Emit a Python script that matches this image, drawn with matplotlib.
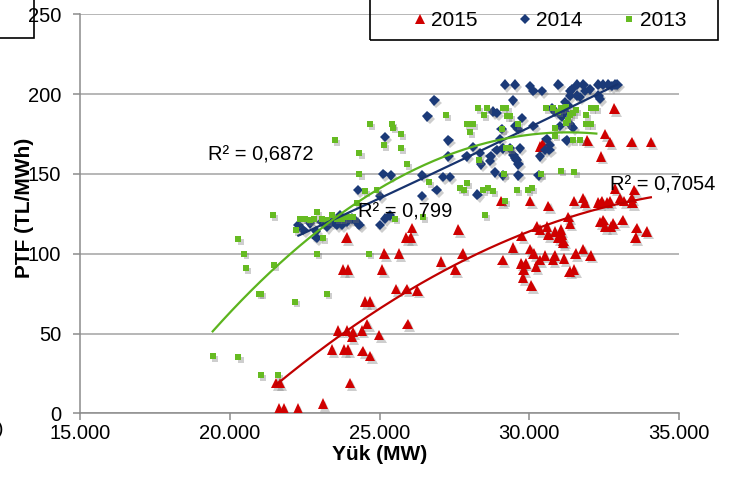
import matplotlib
matplotlib.use("Agg")
import matplotlib.pyplot as plt
import matplotlib.patheffects as pe
from matplotlib.patches import Rectangle
from matplotlib.lines import Line2D
import numpy as np

plt.rcParams['font.family'] = ['Liberation Sans', 'DejaVu Sans']

# ---------------- data ----------------
x_2015 = [21550, 21680, 21650, 21810, 22280, 23110, 24010, 23410, 23810, 23950,
          24440, 24690, 23610, 23910, 24110, 24080, 24410, 24590, 24990, 25940,
          24510, 24690, 23780, 23950, 25090, 25550, 25910, 26260, 23900, 25160,
          25650, 25890, 26040, 26080, 27630, 27780, 27050, 27530, 29110, 29460,
          29740, 29880, 29810, 29790, 30070, 29750, 30020, 30150, 30220, 30350,
          30520, 30790, 30850, 31160, 31350, 31500, 31550, 31800, 32050, 31130,
          30250, 30360, 30590, 30640, 30860, 30970, 31060, 31140, 31080, 31310,
          31360, 32360, 32470, 32530, 32730, 32810, 33120, 33590, 33920, 33550,
          30030, 30640, 31500, 31790, 31860, 32310, 32420, 32610, 32700, 33030,
          33160, 33420, 33440, 33510, 32860, 29070, 32840, 32530, 32700, 31940,
          33420, 34060, 32400, 30360, 30450]
y_2015 = [19, 19, 3, 3, 3, 6, 19, 40, 40, 40,
          39, 36, 52, 52, 51, 48, 52, 56, 49, 56,
          70, 70, 90, 90, 90, 78, 78, 77, 110, 100,
          100, 110, 110, 116, 115, 100, 95, 90, 96, 104,
          94, 94, 90, 85, 80, 111, 103, 100, 92, 96,
          99, 96, 99, 97, 89, 90, 100, 103, 99, 107,
          117, 115, 117, 112, 114, 110, 115, 108, 112, 123,
          119, 120, 121, 117, 117, 119, 121, 116, 114, 110,
          133, 130, 133, 135, 132, 132, 133, 132, 133, 135,
          133, 135, 132, 140, 141, 133, 191, 175, 170, 171,
          170, 170, 161, 167, 169]

x_2014 = [22290, 22460, 22680, 22880, 22900, 23070, 23240, 23400, 23570, 23620,
          23740, 23900, 24070, 24180, 24330, 23680, 23960, 24290, 25020, 25180,
          25350, 24290, 25180, 25130, 25380, 25020, 26410, 26410, 26910, 27130,
          27350, 27300, 27300, 27910, 28120, 28360, 28710, 28910, 29110, 28380,
          28690, 28860, 29130, 28270, 26600, 26830, 28780, 28910,
          29190, 29520, 30030, 30140, 30420, 30970, 31420, 31590, 31810, 31860,
          32030, 32310, 32470, 32640, 32750, 32860, 32940, 32310, 32360, 31590,
          31360, 31700, 31360, 29450, 29750, 30750, 30860, 31190, 31300, 31190,
          31080, 31030, 31360, 30140, 29520, 29630, 29080, 31460,
          30580, 30690, 31250, 30530, 30360, 30670, 29690, 29360, 29470, 29580,
          29640, 29520, 29020, 29640, 30310]
y_2014 = [118, 115, 119, 114, 110, 120, 117, 120, 118, 120,
          118, 120, 122, 121, 118, 124, 122, 119, 118, 122,
          124, 140, 173, 150, 149, 136, 149, 136, 140, 148,
          148, 171, 161, 161, 167, 163, 161, 165, 166, 156,
          158, 151, 149, 137, 186, 196, 189, 188,
          206, 206, 205, 202, 202, 206, 203, 206, 206, 202,
          203, 206, 206, 206, 205, 206, 206, 199, 197, 199,
          199, 198, 202, 196, 185, 191, 189, 195, 193, 189,
          186, 180, 181, 180, 180, 178, 178, 179,
          172, 168, 171, 165, 161, 165, 166, 166, 162, 159,
          156, 160, 172, 149, 149]

x_2013 = [19430, 20290, 21030, 21600, 20290, 20490, 20540, 20990, 21030, 21480,
          22180, 22900, 23240, 24660, 21430, 22900, 23100, 22210,
          22350, 22510, 22680, 22810, 23070, 23240, 23400, 23570, 23740, 23900,
          24130, 24240, 23510, 24330, 24330, 24680, 24520, 24900,
          25410, 25440, 25710, 25160, 25710, 25910, 26660, 25520, 26450,
          27220, 27910, 28130, 28020, 28280, 28580, 29110, 28500, 29270, 29080,
          27910, 27690, 27820, 28470, 28610, 28800, 28330, 29170, 29210, 28520,
          29190, 29600, 29960, 30080, 30400, 31070, 31510,
          30570, 30790, 30960, 31070, 31240, 31350, 31460, 31570, 31900, 32070,
          32240, 30850, 30850, 31240, 31290, 31460, 31680, 31900, 32070,
          29240, 29350, 29630, 29350]
y_2013 = [36, 35, 24, 24, 109, 100, 91, 75, 75, 93,
          70, 100, 75, 100, 124, 126, 110, 115,
          122, 122, 121, 122, 122, 121, 124, 122, 122, 123,
          123, 132, 171, 163, 150, 181, 139, 140,
          181, 179, 175, 168, 166, 156, 145, 122, 123,
          187, 181, 181, 176, 191, 191, 191, 187, 186, 178,
          144, 141, 140, 140, 141, 139, 159, 150, 166, 124,
          133, 140, 140, 141, 150, 152, 151,
          191, 191, 189, 191, 192, 187, 188, 190, 187, 191,
          191, 174, 179, 182, 184, 171, 171, 181, 181,
          191, 186, 181, 166]

series_labels = ['2015', '2014', '2013']
r2_labels = ['R² = 0,7054', 'R² = 0,799', 'R² = 0,6872']
x_ticks = [15000, 20000, 25000, 30000, 35000]
x_tick_labels = ['15.000', '20.000', '25.000', '30.000', '35.000']
y_ticks = [0, 50, 100, 150, 200, 250]

# ---------------- figure ----------------
W, H = 746, 482
fig = plt.figure(figsize=(W / 100, H / 100), dpi=100)
ax = fig.add_axes([80 / W, 1 - 413.3 / H, 599 / W, 399 / H])

red, blue, green = '#D00000', '#1B3A78', '#66BB22'
shadow = [pe.SimplePatchShadow(offset=(1.5, -2), shadow_rgbFace=(0.45, 0.45, 0.45), alpha=0.35), pe.Normal()]

ax.plot(x_2015, y_2015, ls='none', marker='^', ms=7.6, color=red, mew=0,
        path_effects=shadow, zorder=3)
ax.plot(x_2014, y_2014, ls='none', marker='D', ms=5.3, color=blue, mew=0,
        path_effects=shadow, zorder=4)
ax.plot(x_2013, y_2013, ls='none', marker='s', ms=4.3, color=green, mew=0,
        path_effects=shadow, zorder=5)

# polynomial (order 2) trendlines
for xs, ys, col in [(x_2015, y_2015, '#C00000'), (x_2014, y_2014, '#17336E'),
                    (x_2013, y_2013, '#5CB41E')]:
    c = np.polyfit(xs, ys, 2)
    xx = np.linspace(min(xs), max(xs), 200)
    ax.plot(xx, np.polyval(c, xx), color=col, lw=1.6, zorder=6)

ax.set_xlim(15000, 35000)
ax.set_ylim(0, 250)
ax.set_xticks(x_ticks)
ax.set_xticklabels(x_tick_labels)
ax.set_yticks(y_ticks)

grid_col = '#A3A3A3'
ax.yaxis.grid(True, color=grid_col, lw=1.1, zorder=0)
ax.set_axisbelow(True)
for s in ['top', 'right']:
    ax.spines[s].set_visible(False)
for s in ['left', 'bottom']:
    ax.spines[s].set_color('#8C8C8C')
    ax.spines[s].set_linewidth(1.1)
ax.tick_params(axis='y', length=5, width=1.1, color='#8C8C8C', pad=8.5, labelsize=14.5)
ax.tick_params(axis='x', length=5, width=1.1, color='#8C8C8C', pad=2.5, labelsize=14.5)

ax.set_xlabel('Yük (MW)', fontsize=15, fontweight='bold', labelpad=2)
fig.text(25 / W, 1 - 208 / H, 'PTF (TL/MWh)', rotation=90, fontsize=15,
         fontweight='bold', ha='center', va='center')

# R² annotations
ax.text(32686, 143, r2_labels[0], fontsize=14.5, va='center', ha='left', zorder=7)
ax.text(24293, 126.3, r2_labels[1], fontsize=14.5, va='center', ha='left', zorder=7)
ax.text(19274, 162, r2_labels[2], fontsize=14.5, va='center', ha='left', zorder=7)

# legend
handles = [Line2D([], [], ls='none', marker='^', ms=7.6, color=red, mew=0),
           Line2D([], [], ls='none', marker='D', ms=5.3, color=blue, mew=0),
           Line2D([], [], ls='none', marker='s', ms=4.3, color=green, mew=0)]
fig.legend(handles, series_labels, ncol=3, loc='center left',
           bbox_to_anchor=(413.9 / W, 1 - 20.5 / H), bbox_transform=fig.transFigure,
           frameon=False, fontsize=15, handlelength=0.6, handletextpad=0.22,
           columnspacing=1.97, borderpad=0, borderaxespad=0)
fig.patches.append(Rectangle((370 / W, 1 - 40.3 / H), 348 / W, 50 / H,
                             transform=fig.transFigure, fill=False,
                             edgecolor='black', lw=1.2))
fig.patches.append(Rectangle((-5 / W, 1 - 38 / H), 39 / W, 50 / H,
                             transform=fig.transFigure, fill=False,
                             edgecolor='black', lw=1.2))
fig.text(3 / W, 1 - 429 / H, ')', fontsize=14, ha='right', va='center')

fig.savefig('out.png', dpi=100)
